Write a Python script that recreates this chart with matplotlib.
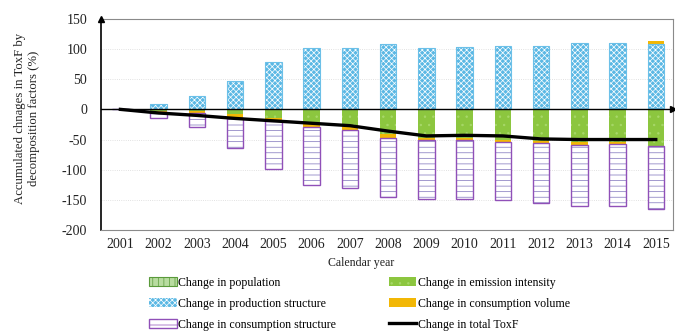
import numpy as np
import matplotlib
matplotlib.use("Agg")
import matplotlib.pyplot as plt
from matplotlib.patches import Patch
from matplotlib.lines import Line2D

plt.rcParams['font.family'] = ['Liberation Serif', 'DejaVu Serif']
plt.rcParams['axes.unicode_minus'] = False
plt.rcParams['hatch.linewidth'] = 0.5

# values (%)
years = ['2001', '2002', '2003', '2004', '2005', '2006', '2007', '2008',
         '2009', '2010', '2011', '2012', '2013', '2014', '2015']
population = [0, 0.3, 0.5, 0.6, 0.8, 1.0, 1.0, 1.2, 1.2, 1.3, 1.4, 1.5, 1.5, 1.6, 1.7]
production = [0, 9, 21, 46, 78, 100, 100, 107, 100, 102, 103, 104, 108, 108, 106]
emission = [0, -3, -3, -8, -14, -22, -28, -40, -47, -47, -50, -52, -54, -54, -61]
volume = [0, -2, -3, -6, -5, -7, -7, -8, -4, -4, -4, -4, -5, -3, 5]
structure = [0, -10, -24, -50, -80, -96, -95, -98, -98, -97, -97, -100, -101, -103, -104]
total = [0, -6, -10, -15, -19, -23, -27, -36, -44, -43, -44, -49, -50, -50, -50]

x = np.arange(len(years))
pop = np.array(population)
prod = np.array(production)
emi = np.array(emission)
vol = np.array(volume)
stru = np.array(structure)

c_pop = '#5a9a3a'
c_prod = '#5bb8e4'
c_emi = '#8cc63f'
c_vol = '#f2b705'
c_str = '#9050b8'

fig = plt.figure(figsize=(6.75, 3.31), dpi=100)
ax = fig.add_axes([0.150, 0.305, 0.847, 0.638])
w = 0.43

# positive stack: population, production structure, (volume when positive)
ax.bar(x, pop, w, color='#b8dca0', edgecolor=c_pop, hatch='|||', linewidth=0, zorder=2)
ax.bar(x, prod, w, bottom=pop, color=c_prod, edgecolor='white', hatch='xxxxxx', linewidth=0, zorder=2)
ax.bar(x, prod, w, bottom=pop, fill=False, edgecolor='#6cc0e8', linewidth=0.8, zorder=3)
vol_pos = np.where(vol > 0, vol, 0)
ax.bar(x, vol_pos, w, bottom=pop + prod, color=c_vol, linewidth=0, zorder=2)

# negative stack: emission intensity, consumption volume, consumption structure
ax.bar(x, emi, w, color=c_emi, edgecolor='#a8d86a', hatch='..', linewidth=0, zorder=2)
vol_neg = np.where(vol < 0, vol, 0)
ax.bar(x, vol_neg, w, bottom=emi, color=c_vol, linewidth=0, zorder=2)
ax.bar(x, stru, w, bottom=emi + vol_neg, color='white', edgecolor='#7d72bb', hatch='---', linewidth=0, zorder=2)
ax.bar(x, stru, w, bottom=emi + vol_neg, fill=False, edgecolor=c_str, linewidth=1.0, zorder=3)

ax.plot(x, total, color='black', linewidth=2.4, zorder=5)

ax.set_xlim(-0.5, 14.45)
ax.set_ylim(-200, 150)
ax.set_yticks(range(-200, 151, 50))
ax.set_xticks(x)
ax.set_xticklabels(years)
ax.tick_params(length=0, labelsize=10, colors='#222222')
ax.tick_params(axis='y', pad=10)
ax.tick_params(axis='x', pad=6)
for v in [-150, -100, -50, 50, 100]:
    ax.axhline(v, color='#d8d8d8', linewidth=0.6, linestyle=':', zorder=0)
ax.axhline(0, color='black', linewidth=1.0, zorder=4)
ax.plot(1, 0, '>', color='black', markersize=5, transform=ax.get_yaxis_transform(), clip_on=False, zorder=6)
ax.plot(0, 1, '^', color='black', markersize=5, transform=ax.transAxes, clip_on=False, zorder=6)

for s in ['top', 'right', 'bottom']:
    ax.spines[s].set_color('#8a8a8a')
ax.spines['left'].set_color('black')
ax.spines['left'].set_linewidth(1.2)

ax.set_ylabel('Accumulated chnages in ToxF by\ndecomposition factors (%)', fontsize=9.2, color='#222222')
ax.yaxis.set_label_coords(-0.108, 0.53)
fig.text(0.535, 0.205, 'Calendar year', ha='center', va='center', fontsize=8.6, color='#222222')

handles = [
    Patch(facecolor='#b8dca0', edgecolor=c_pop, hatch='|||', linewidth=0.8),
    Patch(facecolor=c_prod, edgecolor='white', hatch='xxxxxx', linewidth=0),
    Patch(facecolor='white', edgecolor=c_str, hatch='---', linewidth=1.0),
    Patch(facecolor=c_emi, edgecolor='#a8d86a', hatch='..', linewidth=0),
    Patch(facecolor=c_vol, linewidth=0),
    Line2D([0], [0], color='black', linewidth=2.4),
]
labels = ['Change in population', 'Change in production structure',
          'Change in consumption structure', 'Change in emission intensity',
          'Change in consumption volume', 'Change in total ToxF']
fig.legend(handles, labels, loc='upper left', bbox_to_anchor=(0.212, 0.182),
           ncol=2, frameon=False, fontsize=8.6, handlelength=2.3, handleheight=0.7,
           handletextpad=0.1, columnspacing=4.45, labelspacing=0.75, borderpad=0)

fig.savefig('out.png', dpi=100)
